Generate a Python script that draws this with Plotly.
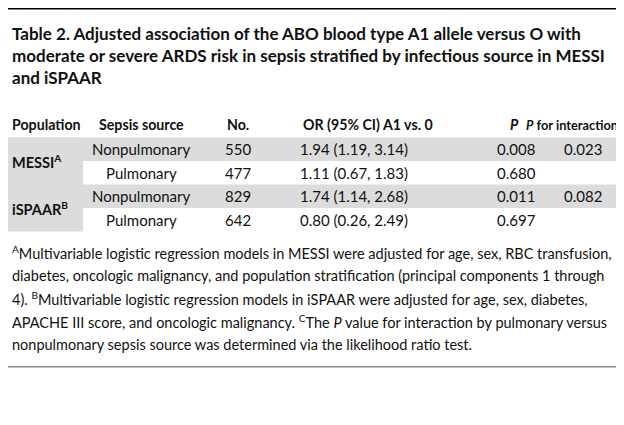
"""Table 2 from the ABO / ARDS paper, redrawn as a Plotly figure."""

import plotly.graph_objects as go

TITLE_LINES = [
    "Table 2. Adjusted association of the ABO blood type A1 allele versus O with",
    "moderate or severe ARDS risk in sepsis stratified by infectious source in MESSI",
    "and iSPAAR",
]
HEADERS = [
    "Population",
    "Sepsis source",
    "No.",
    "OR (95% CI) A1 vs. 0",
    "<i>P</i>",
    "<i>P</i> for interaction<sup>C</sup>",
]
POPULATIONS = ["MESSI<sup>A</sup>", "iSPAAR<sup>B</sup>"]
SOURCES = ["Nonpulmonary", "Pulmonary", "Nonpulmonary", "Pulmonary"]
COUNTS = ["550", "477", "829", "642"]
ODDS_RATIOS = [
    "1.94 (1.19, 3.14)",
    "1.11 (0.67, 1.83)",
    "1.74 (1.14, 2.68)",
    "0.80 (0.26, 2.49)",
]
P_VALUES = ["0.008", "0.680", "0.011", "0.697"]
P_INTERACTION = ["0.023", "", "0.082", ""]
FOOTNOTE_LINES = [
    "<sup>A</sup>Multivariable logistic regression models in MESSI were adjusted for age, sex, RBC transfusion,",
    "diabetes, oncologic malignancy, and population stratification (principal components 1 through",
    "4). <sup>B</sup>Multivariable logistic regression models in iSPAAR were adjusted for age, sex, diabetes,",
    "APACHE III score, and oncologic malignancy. <sup>C</sup>The <i>P</i> value for interaction by pulmonary versus",
    "nonpulmonary sepsis source was determined via the likelihood ratio test.",
]

W, H = 624, 425
FONT = "Lato, sans-serif"
INK = "#111111"
SHADE = "#dcdcdc"

title_y = [25, 47, 69]
header_y = 116
row_top = 129.5
row_h = 23.5
col_x = [2, 133, 230, 346, 508, 575]
header_x = [2, 133, 230, 360, 506, 618]
header_anchor = ["left", "center", "center", "center", "center", "right"]
header_size = [14.2, 14.2, 14.2, 14.2, 14.2, 12.8]
foot_y = [244, 267, 290, 313, 336]


def _text(x, y, text, size=15, anchor="center", bold=False):
    if bold:
        text = f"<b>{text}</b>"
    return dict(
        x=x, y=y, xref="x", yref="y", text=text, showarrow=False,
        xanchor=anchor, yanchor="middle",
        font={"family": FONT, "size": size, "color": INK},
    )


def _rect(x0, y0, x1, y1, color):
    return dict(
        type="rect", xref="x", yref="y", x0=x0, y0=y0, x1=x1, y1=y1,
        fillcolor=color, line={"width": 0}, layer="below",
    )


annotations = []
shapes = []

for y, line in zip(title_y, TITLE_LINES):
    annotations.append(_text(2, y, line, size=17, anchor="left", bold=True))

for x, head, anchor, size in zip(header_x, HEADERS, header_anchor, header_size):
    annotations.append(_text(x, header_y, head, size=size, anchor=anchor, bold=True))

# shaded rows (first row of each population) and the population column
for r in range(len(SOURCES)):
    top = row_top + r * row_h
    if r % 2 == 0:
        shapes.append(_rect(0, top, W, top + row_h, SHADE))
shapes.append(_rect(0, row_top, 75, row_top + len(SOURCES) * row_h, SHADE))

for p, pop in enumerate(POPULATIONS):
    annotations.append(
        _text(col_x[0], row_top + (2 * p + 1) * row_h, pop, size=14.5,
              anchor="left", bold=True)
    )

for r in range(len(SOURCES)):
    yc = row_top + (r + 0.5) * row_h
    cells = [SOURCES[r], COUNTS[r], ODDS_RATIOS[r], P_VALUES[r], P_INTERACTION[r]]
    for x, cell in zip(col_x[1:], cells):
        if cell:
            annotations.append(_text(x, yc, cell))

for y, line in zip(foot_y, FOOTNOTE_LINES):
    annotations.append(_text(2, y, line, size=14.5, anchor="left"))

shapes.append(_rect(0, 0, W, 1.5, "#000000"))
shapes.append(_rect(0, 358, W, 359.6, "#8a8a8a"))

fig = go.Figure()
fig.update_layout(
    width=W,
    height=H,
    margin={"l": 0, "r": 0, "t": 0, "b": 0},
    paper_bgcolor="white",
    plot_bgcolor="white",
    xaxis={"range": [0, W], "visible": False, "fixedrange": True},
    yaxis={"range": [H, 0], "visible": False, "fixedrange": True},
    annotations=annotations,
    shapes=shapes,
    showlegend=False,
)
fig.write_html("out.html", config={"displayModeBar": False})
